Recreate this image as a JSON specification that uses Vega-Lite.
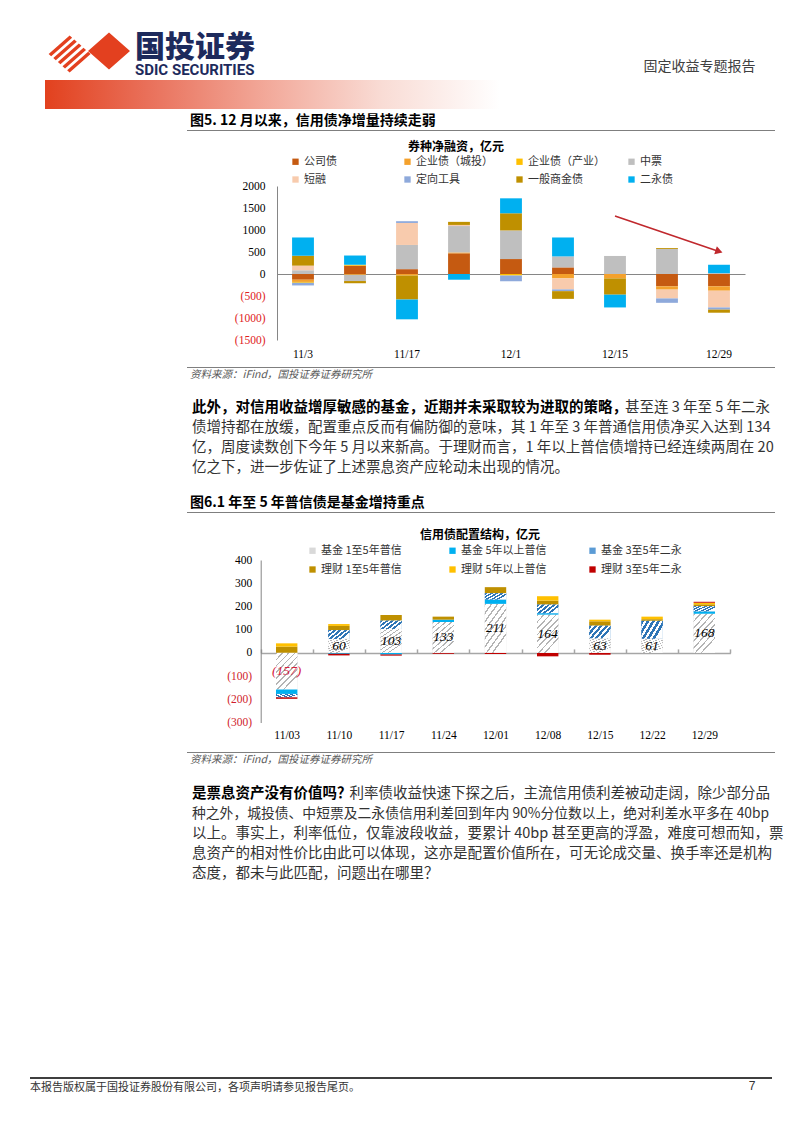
{
  "$schema": "https://vega.github.io/schema/vega-lite/v6.json",
  "background": "white",
  "padding": {"left": 30, "top": 25, "right": 0, "bottom": 0},
  "autosize": {"type": "pad"},
  "config": {"view": {"stroke": null}, "font": "Noto Sans CJK SC", "axis": {"labelOverlap": false, "labelBound": false, "labelFlush": false}},
  "resolve": {"scale": {"x": "independent", "y": "independent", "color": "independent"}, "axis": {"x": "independent", "y": "independent"}, "legend": {"color": "independent"}},
  "title": {"text": "固定收益专题报告", "anchor": "end", "orient": "top", "dx": -28, "dy": 49, "offset": 0, "fontSize": 14, "fontWeight": "normal", "color": "#404040", "font": "Noto Sans CJK SC"},
  "datasets": {
    "flows": [
      {"week": "11/3", "series": "公司债", "value": -130},
      {"week": "11/3", "series": "企业债（城投）", "value": -50},
      {"week": "11/3", "series": "企业债（产业）", "value": -20},
      {"week": "11/3", "series": "中票", "value": 85},
      {"week": "11/3", "series": "短融", "value": 105},
      {"week": "11/3", "series": "定向工具", "value": -60},
      {"week": "11/3", "series": "一般商金债", "value": 225},
      {"week": "11/3", "series": "二永债", "value": 415},
      {"week": "11/10", "series": "公司债", "value": 190},
      {"week": "11/10", "series": "企业债（城投）", "value": -20},
      {"week": "11/10", "series": "企业债（产业）", "value": 20},
      {"week": "11/10", "series": "中票", "value": -140},
      {"week": "11/10", "series": "一般商金债", "value": -50},
      {"week": "11/10", "series": "二永债", "value": 210},
      {"week": "11/17", "series": "公司债", "value": 110},
      {"week": "11/17", "series": "企业债（城投）", "value": -35},
      {"week": "11/17", "series": "中票", "value": 550},
      {"week": "11/17", "series": "短融", "value": 500},
      {"week": "11/17", "series": "定向工具", "value": 40},
      {"week": "11/17", "series": "一般商金债", "value": -545},
      {"week": "11/17", "series": "二永债", "value": -450},
      {"week": "11/24", "series": "公司债", "value": 470},
      {"week": "11/24", "series": "企业债（城投）", "value": 20},
      {"week": "11/24", "series": "中票", "value": 600},
      {"week": "11/24", "series": "短融", "value": 25},
      {"week": "11/24", "series": "一般商金债", "value": 70},
      {"week": "11/24", "series": "二永债", "value": -130},
      {"week": "12/1", "series": "公司债", "value": 340},
      {"week": "12/1", "series": "企业债（产业）", "value": -35},
      {"week": "12/1", "series": "中票", "value": 650},
      {"week": "12/1", "series": "定向工具", "value": -130},
      {"week": "12/1", "series": "一般商金债", "value": 390},
      {"week": "12/1", "series": "二永债", "value": 340},
      {"week": "12/8", "series": "公司债", "value": 150},
      {"week": "12/8", "series": "企业债（城投）", "value": -100},
      {"week": "12/8", "series": "中票", "value": 250},
      {"week": "12/8", "series": "短融", "value": -250},
      {"week": "12/8", "series": "定向工具", "value": -40},
      {"week": "12/8", "series": "一般商金债", "value": -175},
      {"week": "12/8", "series": "二永债", "value": 430},
      {"week": "12/15", "series": "企业债（城投）", "value": -100},
      {"week": "12/15", "series": "中票", "value": 410},
      {"week": "12/15", "series": "一般商金债", "value": -370},
      {"week": "12/15", "series": "二永债", "value": -290},
      {"week": "12/22", "series": "公司债", "value": -280},
      {"week": "12/22", "series": "企业债（城投）", "value": -75},
      {"week": "12/22", "series": "中票", "value": 570},
      {"week": "12/22", "series": "短融", "value": -200},
      {"week": "12/22", "series": "定向工具", "value": -100},
      {"week": "12/22", "series": "一般商金债", "value": 20},
      {"week": "12/29", "series": "公司债", "value": -280},
      {"week": "12/29", "series": "企业债（城投）", "value": -100},
      {"week": "12/29", "series": "中票", "value": 20},
      {"week": "12/29", "series": "短融", "value": -380},
      {"week": "12/29", "series": "定向工具", "value": -50},
      {"week": "12/29", "series": "一般商金债", "value": -70},
      {"week": "12/29", "series": "二永债", "value": 190}
    ],
    "arrow": [{"from": "12/15", "to": "12/29", "start": 1320, "end": 514}],
    "alloc": [
      {"week": "11/03", "series": "基金 1至5年普信", "value": -157},
      {"week": "11/03", "series": "基金 5年以上普信", "value": -20},
      {"week": "11/03", "series": "基金 3至5年二永", "value": -14},
      {"week": "11/03", "series": "理财 1至5年普信", "value": 27},
      {"week": "11/03", "series": "理财 5年以上普信", "value": 14},
      {"week": "11/03", "series": "理财 3至5年二永", "value": -7},
      {"week": "11/10", "series": "基金 1至5年普信", "value": 60},
      {"week": "11/10", "series": "基金 5年以上普信", "value": -4},
      {"week": "11/10", "series": "基金 3至5年二永", "value": 38},
      {"week": "11/10", "series": "理财 1至5年普信", "value": 18},
      {"week": "11/10", "series": "理财 5年以上普信", "value": 8},
      {"week": "11/10", "series": "理财 3至5年二永", "value": -7},
      {"week": "11/17", "series": "基金 1至5年普信", "value": 103},
      {"week": "11/17", "series": "基金 5年以上普信", "value": -7},
      {"week": "11/17", "series": "基金 3至5年二永", "value": 36},
      {"week": "11/17", "series": "理财 1至5年普信", "value": 24},
      {"week": "11/17", "series": "理财 3至5年二永", "value": -5},
      {"week": "11/24", "series": "基金 1至5年普信", "value": 133},
      {"week": "11/24", "series": "基金 5年以上普信", "value": 10},
      {"week": "11/24", "series": "理财 1至5年普信", "value": 13},
      {"week": "11/24", "series": "理财 3至5年二永", "value": -4},
      {"week": "12/01", "series": "基金 1至5年普信", "value": 211},
      {"week": "12/01", "series": "基金 5年以上普信", "value": 19},
      {"week": "12/01", "series": "基金 3至5年二永", "value": 27},
      {"week": "12/01", "series": "理财 1至5年普信", "value": 26},
      {"week": "12/01", "series": "理财 3至5年二永", "value": -5},
      {"week": "12/08", "series": "基金 1至5年普信", "value": 164},
      {"week": "12/08", "series": "基金 5年以上普信", "value": 7},
      {"week": "12/08", "series": "基金 3至5年二永", "value": 37},
      {"week": "12/08", "series": "理财 1至5年普信", "value": 17},
      {"week": "12/08", "series": "理财 5年以上普信", "value": 19},
      {"week": "12/08", "series": "理财 3至5年二永", "value": -15},
      {"week": "12/15", "series": "基金 1至5年普信", "value": 63},
      {"week": "12/15", "series": "基金 3至5年二永", "value": 54},
      {"week": "12/15", "series": "理财 1至5年普信", "value": 19},
      {"week": "12/15", "series": "理财 5年以上普信", "value": 7},
      {"week": "12/15", "series": "理财 3至5年二永", "value": -8},
      {"week": "12/22", "series": "基金 1至5年普信", "value": 61},
      {"week": "12/22", "series": "基金 3至5年二永", "value": 77},
      {"week": "12/22", "series": "理财 1至5年普信", "value": 7},
      {"week": "12/22", "series": "理财 5年以上普信", "value": 11},
      {"week": "12/29", "series": "基金 1至5年普信", "value": 168},
      {"week": "12/29", "series": "基金 5年以上普信", "value": 11},
      {"week": "12/29", "series": "基金 3至5年二永", "value": 22},
      {"week": "12/29", "series": "理财 1至5年普信", "value": 8},
      {"week": "12/29", "series": "理财 5年以上普信", "value": 7},
      {"week": "12/29", "series": "理财 3至5年二永", "value": 4}
    ],
    "para1": [
      {"line": 1, "part": "lead", "text": "此外，对信用收益增厚敏感的基金，近期并未采取较为进取的策略，"},
      {"line": 1, "part": "tail", "text": "甚至连 3 年至 5 年二永"},
      {"line": 2, "part": "body", "text": "债增持都在放缓，配置重点反而有偏防御的意味，其 1 年至 3 年普通信用债净买入达到 134"},
      {"line": 3, "part": "body", "text": "亿，周度读数创下今年 5 月以来新高。于理财而言，1 年以上普信债增持已经连续两周在 20"},
      {"line": 4, "part": "body", "text": "亿之下，进一步佐证了上述票息资产应轮动未出现的情况。"}
    ],
    "para2": [
      {"line": 1, "part": "lead", "text": "是票息资产没有价值吗？"},
      {"line": 1, "part": "tail", "text": "利率债收益快速下探之后，主流信用债利差被动走阔，除少部分品"},
      {"line": 2, "part": "body", "text": "种之外，城投债、中短票及二永债信用利差回到年内 90%分位数以上，绝对利差水平多在 40bp"},
      {"line": 3, "part": "body", "text": "以上。事实上，利率低位，仅靠波段收益，要累计 40bp 甚至更高的浮盈，难度可想而知，票"},
      {"line": 4, "part": "body", "text": "息资产的相对性价比由此可以体现，这亦是配置价值所在，可无论成交量、换手率还是机构"},
      {"line": 5, "part": "body", "text": "态度，都未与此匹配，问题出在哪里？"}
    ]
  },
  "spacing": 0,
  "bounds": "flush",
  "vconcat": [
    {
      "width": 115, "height": 55,
      "data": {"values": [{"brand": "国投证券"}]},
      "mark": {"type": "point", "shape": "M-0.914,0.035L-0.42,-0.4L-0.361,-0.348L-0.855,0.087Z M-0.805,0.131L-0.311,-0.304L-0.252,-0.252L-0.746,0.183Z M-0.697,0.226L-0.203,-0.209L-0.143,-0.156L-0.637,0.279Z M-0.588,0.322L-0.094,-0.113L-0.035,-0.061L-0.529,0.374Z M-0.479,0.418L0.015,-0.017L0.074,0.035L-0.42,0.47Z M0.012,-0.035L0.506,-0.47L1,-0.035L0.506,0.4Z", "size": 7225, "filled": true, "color": "#E3401F", "opacity": 1, "strokeWidth": 0},
      "encoding": {}
    },
    {
      "width": 470, "height": 29,
      "data": {"values": [{"band": "header"}]},
      "title": {"text": "国投证券", "subtitle": "SDIC SECURITIES", "anchor": "start", "dx": 105, "offset": 2, "fontSize": 30, "fontWeight": 900, "color": "#1D2A5C", "font": "Noto Sans CJK SC", "subtitleFont": "Roboto", "subtitleFontSize": 15, "subtitleFontWeight": "bold", "subtitleColor": "#1D2A5C", "subtitlePadding": 0},
      "mark": {"type": "rect", "color": {"gradient": "linear", "x1": 0, "y1": 0, "x2": 1, "y2": 0, "stops": [
        {"offset": 0, "color": "rgba(255,255,255,0)"},
        {"offset": 0.0319, "color": "rgba(255,255,255,0)"},
        {"offset": 0.0319, "color": "#E2411E"},
        {"offset": 0.25, "color": "#E9705A"},
        {"offset": 0.5, "color": "#F2A899"},
        {"offset": 0.75, "color": "#F9DCD5"},
        {"offset": 1, "color": "#FFFFFF"}]}},
      "encoding": {}
    },
    {"width": 1, "height": 21, "data": {"values": [{"gap": 1}]}, "mark": {"type": "rect", "opacity": 0}, "encoding": {}},
    {
      "width": 745, "height": 1,
      "data": {"values": [{"rule": "caption"}]},
      "title": {"text": "图5. 12 月以来，信用债净增量持续走弱", "anchor": "start", "dx": 160, "offset": 2, "fontSize": 14, "fontWeight": "bold", "color": "#000000", "font": "Noto Sans CJK SC"},
      "mark": {"type": "rect", "color": {"gradient": "linear", "stops": [
        {"offset": 0, "color": "rgba(255,255,255,0)"},
        {"offset": 0.2107, "color": "rgba(255,255,255,0)"},
        {"offset": 0.2107, "color": "#7F7F7F"},
        {"offset": 1, "color": "#7F7F7F"}]}},
      "encoding": {}
    },
    {"width": 1, "height": 55, "data": {"values": [{"gap": 1}]}, "mark": {"type": "rect", "opacity": 0}, "encoding": {}},
    {
      "width": 745, "height": 154,
      "title": {"text": "券种净融资，亿元", "anchor": "start", "dx": 378, "offset": 2, "fontSize": 12, "fontWeight": "bold", "font": "Noto Sans CJK SC", "color": "#000000"},
      "layer": [
        {
          "data": {"name": "flows"},
          "transform": [{"stack": "value", "groupby": ["week"], "as": ["v0", "v1"], "offset": "zero"}],
          "mark": {"type": "bar", "width": {"band": 0.42}},
          "encoding": {
            "x": {"field": "week", "type": "nominal",
              "scale": {"domain": ["11/3", "11/10", "11/17", "11/24", "12/1", "12/8", "12/15", "12/22", "12/29"], "range": [247, 715], "paddingInner": 0, "paddingOuter": 0},
              "axis": {"orient": "bottom", "offset": -66, "values": ["11/3", "11/17", "12/1", "12/15", "12/29"], "ticks": false, "domainColor": "#868686", "domainWidth": 1, "labelPadding": 74, "labelFont": "Liberation Serif", "labelFontSize": 11.5, "labelAngle": 0, "labelColor": "#000000", "title": null}},
            "y": {"field": "v0", "type": "quantitative",
              "scale": {"domain": [-1500, 2000], "nice": false, "zero": false},
              "axis": {"offset": -247, "values": [-1500, -1000, -500, 0, 500, 1000, 1500, 2000], "tickCount": 20, "format": "(.0f", "ticks": false, "labelOverlap": false, "domainColor": "#868686", "labelPadding": 12, "labelFont": "Liberation Serif", "labelFontSize": 11.5, "grid": false, "title": null,
                "labelColor": {"condition": {"test": "datum.value < 0", "value": "#E0201B"}, "value": "#000000"}}},
            "y2": {"field": "v1"},
            "color": {"field": "series", "type": "nominal",
              "scale": {"domain": ["公司债", "企业债（城投）", "企业债（产业）", "中票", "短融", "定向工具", "一般商金债", "二永债"], "range": ["#C55A11", "#F4A12C", "#FFC000", "#BFBFBF", "#F8CBAD", "#8EA9DB", "#BF9000", "#00B0F0"]},
              "legend": {"orient": "none", "legendX": 260, "legendY": -30, "columns": 4, "direction": "horizontal", "title": null, "symbolType": "square", "symbolSize": 40, "symbolStrokeWidth": 0, "labelFont": "Noto Sans CJK SC", "labelFontSize": 11, "labelColor": "#333333", "columnPadding": 21, "rowPadding": 6, "gridAlign": "all", "labelOffset": 3, "padding": 0}}
          }
        },
        {
          "data": {"name": "arrow"},
          "mark": {"type": "rule", "color": "#C0282D", "strokeWidth": 1.6},
          "encoding": {
            "x": {"field": "from", "type": "nominal", "scale": {"domain": ["11/3", "11/10", "11/17", "11/24", "12/1", "12/8", "12/15", "12/22", "12/29"], "range": [247, 715], "paddingInner": 0, "paddingOuter": 0}},
            "x2": {"field": "to"},
            "y": {"field": "start", "type": "quantitative", "scale": {"domain": [-1500, 2000], "nice": false, "zero": false}},
            "y2": {"field": "end"}
          }
        },
        {
          "data": {"name": "arrow"},
          "mark": {"type": "point", "shape": "triangle-right", "angle": 18, "size": 70, "filled": true, "color": "#C0282D", "opacity": 1},
          "encoding": {
            "x": {"field": "to", "type": "nominal", "scale": {"domain": ["11/3", "11/10", "11/17", "11/24", "12/1", "12/8", "12/15", "12/22", "12/29"], "range": [247, 715], "paddingInner": 0, "paddingOuter": 0}},
            "y": {"field": "end", "type": "quantitative", "scale": {"domain": [-1500, 2000], "nice": false, "zero": false}}
          }
        }
      ]
    },
    {"width": 1, "height": 27, "data": {"values": [{"gap": 1}]}, "mark": {"type": "rect", "opacity": 0}, "encoding": {}},
    {
      "width": 745, "height": 1,
      "data": {"values": [{"rule": "source"}]},
      "title": {"text": "资料来源：iFind，国投证券证券研究所", "orient": "bottom", "anchor": "start", "dx": 160, "offset": 2, "fontSize": 10.5, "fontWeight": "normal", "fontStyle": "italic", "color": "#595959", "font": "Noto Sans CJK SC"},
      "mark": {"type": "rect", "color": {"gradient": "linear", "stops": [
        {"offset": 0, "color": "rgba(255,255,255,0)"},
        {"offset": 0.2107, "color": "rgba(255,255,255,0)"},
        {"offset": 0.2107, "color": "#7F7F7F"},
        {"offset": 1, "color": "#7F7F7F"}]}},
      "encoding": {}
    },
    {"width": 1, "height": 30, "data": {"values": [{"gap": 1}]}, "mark": {"type": "rect", "opacity": 0}, "encoding": {}},
    {
      "width": 745, "height": 80,
      "data": {"name": "para1"},
      "layer": [
        {"transform": [{"filter": "datum.part === 'lead'"}],
         "mark": {"type": "text", "align": "left", "baseline": "middle", "font": "Noto Sans CJK SC", "fontSize": 14.5, "fontWeight": "bold", "color": "#000000"},
         "encoding": {"x": {"datum": 0, "type": "quantitative", "scale": {"domain": [0, 1], "range": [162, 740]}, "axis": null},
           "y": {"field": "line", "type": "ordinal", "scale": {"type": "band", "domain": [1, 2, 3, 4], "paddingInner": 0, "paddingOuter": 0}, "axis": null},
           "text": {"field": "text"}}},
        {"transform": [{"filter": "datum.part === 'body'"}],
         "mark": {"type": "text", "align": "left", "baseline": "middle", "font": "Noto Sans CJK SC", "fontSize": 14.5, "color": "#333333"},
         "encoding": {"x": {"datum": 0, "type": "quantitative", "scale": {"domain": [0, 1], "range": [162, 740]}, "axis": null},
           "y": {"field": "line", "type": "ordinal", "scale": {"type": "band", "domain": [1, 2, 3, 4], "paddingInner": 0, "paddingOuter": 0}, "axis": null},
           "text": {"field": "text"}}},
        {"transform": [{"filter": "datum.part === 'tail'"}],
         "mark": {"type": "text", "align": "right", "baseline": "middle", "font": "Noto Sans CJK SC", "fontSize": 14.5, "color": "#333333"},
         "encoding": {"x": {"datum": 1, "type": "quantitative", "scale": {"domain": [0, 1], "range": [162, 740]}, "axis": null},
           "y": {"field": "line", "type": "ordinal", "scale": {"type": "band", "domain": [1, 2, 3, 4], "paddingInner": 0, "paddingOuter": 0}, "axis": null},
           "text": {"field": "text"}}}
      ]
    },
    {"width": 1, "height": 34, "data": {"values": [{"gap": 1}]}, "mark": {"type": "rect", "opacity": 0}, "encoding": {}},
    {
      "width": 745, "height": 1,
      "data": {"values": [{"rule": "caption"}]},
      "title": {"text": "图6.1 年至 5 年普信债是基金增持重点", "anchor": "start", "dx": 160, "offset": 2, "fontSize": 14, "fontWeight": "bold", "color": "#000000", "font": "Noto Sans CJK SC"},
      "mark": {"type": "rect", "color": {"gradient": "linear", "stops": [
        {"offset": 0, "color": "rgba(255,255,255,0)"},
        {"offset": 0.2107, "color": "rgba(255,255,255,0)"},
        {"offset": 0.2107, "color": "#7F7F7F"},
        {"offset": 1, "color": "#7F7F7F"}]}},
      "encoding": {}
    },
    {"width": 1, "height": 46.5, "data": {"values": [{"gap": 1}]}, "mark": {"type": "rect", "opacity": 0}, "encoding": {}},
    {
      "width": 745, "height": 162.5,
      "title": {"text": "信用债配置结构，亿元", "anchor": "start", "dx": 390, "offset": 3, "fontSize": 12, "fontWeight": "bold", "font": "Noto Sans CJK SC", "color": "#000000"},
      "data": {"name": "alloc"},
      "transform": [{"stack": "value", "groupby": ["week"], "as": ["v0", "v1"], "offset": "zero"}],
      "layer": [
        {
          "mark": {"type": "bar", "width": {"band": 0.41}},
          "encoding": {
            "x": {"field": "week", "type": "nominal",
              "scale": {"domain": ["11/03", "11/10", "11/17", "11/24", "12/01", "12/08", "12/15", "12/22", "12/29"], "range": [230.6, 700.4], "paddingInner": 0, "paddingOuter": 0},
              "axis": {"orient": "bottom", "offset": -69.6, "ticks": true, "tickBand": "extent", "tickSize": -4, "tickColor": "#A6A6A6", "tickWidth": 1.5, "domainColor": "#A6A6A6", "domainWidth": 1.5, "labelPadding": 81, "labelFont": "Liberation Serif", "labelFontSize": 11.5, "labelAngle": 0, "labelColor": "#000000", "title": null}},
            "y": {"field": "v0", "type": "quantitative",
              "scale": {"domain": [-300, 400], "nice": false, "zero": false},
              "axis": {"offset": -230.7, "values": [-300, -200, -100, 0, 100, 200, 300, 400], "tickCount": 20, "format": "(.0f", "ticks": false, "labelOverlap": false, "domainColor": "#868686", "labelPadding": 9, "labelFont": "Liberation Serif", "labelFontSize": 11.5, "grid": false, "title": null,
                "labelColor": {"condition": {"test": "datum.value < 0", "value": "#D01C2C"}, "value": "#000000"}}},
            "y2": {"field": "v1"},
            "color": {"field": "series", "type": "nominal",
              "scale": {"domain": ["基金 1至5年普信", "基金 5年以上普信", "基金 3至5年二永", "理财 1至5年普信", "理财 5年以上普信", "理财 3至5年二永"], "range": ["#D9D9D9", "#00B0F0", "#5B9BD5", "#BF9000", "#FFC000", "#C00000"]},
              "legend": {"orient": "none", "legendX": 277, "legendY": -15, "columns": 3, "direction": "horizontal", "title": null, "symbolType": "square", "symbolSize": 40, "symbolStrokeWidth": 0, "labelFont": "Noto Sans CJK SC", "labelFontSize": 11, "labelColor": "#333333", "columnPadding": 40, "rowPadding": 7, "gridAlign": "all", "labelOffset": 3, "padding": 0}}
          }
        },
        {
          "transform": [{"filter": "datum.series === '基金 1至5年普信'"}],
          "mark": {"type": "bar", "width": {"band": 0.41}, "color": {"gradient": "linear", "x1": 0, "y1": 0, "x2": 0.6, "y2": 1, "stops": [
            {"offset": 0, "color": "#B4B4B4"}, {"offset": 0.035, "color": "#B4B4B4"}, {"offset": 0.035, "color": "#FFFFFF"}, {"offset": 0.125, "color": "#FFFFFF"},
            {"offset": 0.125, "color": "#B4B4B4"}, {"offset": 0.16, "color": "#B4B4B4"}, {"offset": 0.16, "color": "#FFFFFF"}, {"offset": 0.25, "color": "#FFFFFF"},
            {"offset": 0.25, "color": "#B4B4B4"}, {"offset": 0.285, "color": "#B4B4B4"}, {"offset": 0.285, "color": "#FFFFFF"}, {"offset": 0.375, "color": "#FFFFFF"},
            {"offset": 0.375, "color": "#B4B4B4"}, {"offset": 0.41, "color": "#B4B4B4"}, {"offset": 0.41, "color": "#FFFFFF"}, {"offset": 0.5, "color": "#FFFFFF"},
            {"offset": 0.5, "color": "#B4B4B4"}, {"offset": 0.535, "color": "#B4B4B4"}, {"offset": 0.535, "color": "#FFFFFF"}, {"offset": 0.625, "color": "#FFFFFF"},
            {"offset": 0.625, "color": "#B4B4B4"}, {"offset": 0.66, "color": "#B4B4B4"}, {"offset": 0.66, "color": "#FFFFFF"}, {"offset": 0.75, "color": "#FFFFFF"},
            {"offset": 0.75, "color": "#B4B4B4"}, {"offset": 0.785, "color": "#B4B4B4"}, {"offset": 0.785, "color": "#FFFFFF"}, {"offset": 0.875, "color": "#FFFFFF"},
            {"offset": 0.875, "color": "#B4B4B4"}, {"offset": 0.91, "color": "#B4B4B4"}, {"offset": 0.91, "color": "#FFFFFF"}, {"offset": 1, "color": "#FFFFFF"}]}},
          "encoding": {
            "x": {"field": "week", "type": "nominal", "scale": {"domain": ["11/03", "11/10", "11/17", "11/24", "12/01", "12/08", "12/15", "12/22", "12/29"], "range": [230.6, 700.4], "paddingInner": 0, "paddingOuter": 0}},
            "y": {"field": "v0", "type": "quantitative", "scale": {"domain": [-300, 400], "nice": false, "zero": false}},
            "y2": {"field": "v1"}
          }
        },
        {
          "transform": [{"filter": "datum.series === '基金 3至5年二永'"}],
          "mark": {"type": "bar", "width": {"band": 0.41}, "color": {"gradient": "linear", "x1": 0, "y1": 0, "x2": 1, "y2": 0.5, "stops": [
            {"offset": 0, "color": "#2E75B6"}, {"offset": 0.11, "color": "#2E75B6"}, {"offset": 0.11, "color": "#FFFFFF"}, {"offset": 0.2, "color": "#FFFFFF"},
            {"offset": 0.2, "color": "#2E75B6"}, {"offset": 0.31, "color": "#2E75B6"}, {"offset": 0.31, "color": "#FFFFFF"}, {"offset": 0.4, "color": "#FFFFFF"},
            {"offset": 0.4, "color": "#2E75B6"}, {"offset": 0.51, "color": "#2E75B6"}, {"offset": 0.51, "color": "#FFFFFF"}, {"offset": 0.6, "color": "#FFFFFF"},
            {"offset": 0.6, "color": "#2E75B6"}, {"offset": 0.71, "color": "#2E75B6"}, {"offset": 0.71, "color": "#FFFFFF"}, {"offset": 0.8, "color": "#FFFFFF"},
            {"offset": 0.8, "color": "#2E75B6"}, {"offset": 0.91, "color": "#2E75B6"}, {"offset": 0.91, "color": "#FFFFFF"}, {"offset": 1, "color": "#FFFFFF"}]}},
          "encoding": {
            "x": {"field": "week", "type": "nominal", "scale": {"domain": ["11/03", "11/10", "11/17", "11/24", "12/01", "12/08", "12/15", "12/22", "12/29"], "range": [230.6, 700.4], "paddingInner": 0, "paddingOuter": 0}},
            "y": {"field": "v0", "type": "quantitative", "scale": {"domain": [-300, 400], "nice": false, "zero": false}},
            "y2": {"field": "v1"}
          }
        },
        {
          "transform": [
            {"filter": "datum.series === '基金 1至5年普信'"},
            {"fold": ["v0", "v1"], "as": ["end", "pos"]},
            {"aggregate": [{"op": "mean", "field": "pos", "as": "mid"}, {"op": "max", "field": "value", "as": "lab"}], "groupby": ["week"]}
          ],
          "mark": {"type": "text", "font": "Liberation Serif", "fontStyle": "italic", "fontSize": 13.5, "baseline": "middle", "align": "center"},
          "encoding": {
            "x": {"field": "week", "type": "nominal", "scale": {"domain": ["11/03", "11/10", "11/17", "11/24", "12/01", "12/08", "12/15", "12/22", "12/29"], "range": [230.6, 700.4], "paddingInner": 0, "paddingOuter": 0}},
            "y": {"field": "mid", "type": "quantitative", "scale": {"domain": [-300, 400], "nice": false, "zero": false}},
            "text": {"field": "lab", "type": "quantitative", "format": "(.0f"},
            "color": {"condition": {"test": "datum.lab < 0", "value": "#D6213E"}, "value": "#000000"}
          }
        }
      ]
    },
    {"width": 1, "height": 29, "data": {"values": [{"gap": 1}]}, "mark": {"type": "rect", "opacity": 0}, "encoding": {}},
    {
      "width": 745, "height": 1,
      "data": {"values": [{"rule": "source"}]},
      "title": {"text": "资料来源：iFind，国投证券证券研究所", "orient": "bottom", "anchor": "start", "dx": 160, "offset": 2, "fontSize": 10.5, "fontWeight": "normal", "fontStyle": "italic", "color": "#595959", "font": "Noto Sans CJK SC"},
      "mark": {"type": "rect", "color": {"gradient": "linear", "stops": [
        {"offset": 0, "color": "rgba(255,255,255,0)"},
        {"offset": 0.2107, "color": "rgba(255,255,255,0)"},
        {"offset": 0.2107, "color": "#7F7F7F"},
        {"offset": 1, "color": "#7F7F7F"}]}},
      "encoding": {}
    },
    {"width": 1, "height": 31, "data": {"values": [{"gap": 1}]}, "mark": {"type": "rect", "opacity": 0}, "encoding": {}},
    {
      "width": 745, "height": 100,
      "data": {"name": "para2"},
      "layer": [
        {"transform": [{"filter": "datum.part === 'lead'"}],
         "mark": {"type": "text", "align": "left", "baseline": "middle", "font": "Noto Sans CJK SC", "fontSize": 14.5, "fontWeight": "bold", "color": "#000000"},
         "encoding": {"x": {"datum": 0, "type": "quantitative", "scale": {"domain": [0, 1], "range": [162, 740]}, "axis": null},
           "y": {"field": "line", "type": "ordinal", "scale": {"type": "band", "domain": [1, 2, 3, 4, 5], "paddingInner": 0, "paddingOuter": 0}, "axis": null},
           "text": {"field": "text"}}},
        {"transform": [{"filter": "datum.part === 'body' && datum.line !== 2"}],
         "mark": {"type": "text", "align": "left", "baseline": "middle", "font": "Noto Sans CJK SC", "fontSize": 14.5, "color": "#333333"},
         "encoding": {"x": {"datum": 0, "type": "quantitative", "scale": {"domain": [0, 1], "range": [162, 740]}, "axis": null},
           "y": {"field": "line", "type": "ordinal", "scale": {"type": "band", "domain": [1, 2, 3, 4, 5], "paddingInner": 0, "paddingOuter": 0}, "axis": null},
           "text": {"field": "text"}}},
        {"transform": [{"filter": "datum.part === 'body' && datum.line === 2"}],
         "mark": {"type": "text", "align": "left", "baseline": "middle", "font": "Noto Sans CJK SC", "fontSize": 13.8, "color": "#333333"},
         "encoding": {"x": {"datum": 0, "type": "quantitative", "scale": {"domain": [0, 1], "range": [162, 740]}, "axis": null},
           "y": {"field": "line", "type": "ordinal", "scale": {"type": "band", "domain": [1, 2, 3, 4, 5], "paddingInner": 0, "paddingOuter": 0}, "axis": null},
           "text": {"field": "text"}}},
        {"transform": [{"filter": "datum.part === 'tail'"}],
         "mark": {"type": "text", "align": "right", "baseline": "middle", "font": "Noto Sans CJK SC", "fontSize": 14.5, "color": "#333333"},
         "encoding": {"x": {"datum": 1, "type": "quantitative", "scale": {"domain": [0, 1], "range": [162, 740]}, "axis": null},
           "y": {"field": "line", "type": "ordinal", "scale": {"type": "band", "domain": [1, 2, 3, 4, 5], "paddingInner": 0, "paddingOuter": 0}, "axis": null},
           "text": {"field": "text"}}}
      ]
    },
    {"width": 1, "height": 193, "data": {"values": [{"gap": 1}]}, "mark": {"type": "rect", "opacity": 0}, "encoding": {}},
    {
      "width": 742, "height": 2,
      "title": {"text": "本报告版权属于国投证券股份有限公司，各项声明请参见报告尾页。", "orient": "bottom", "anchor": "start", "offset": -10, "fontSize": 11, "fontWeight": "normal", "color": "#333333", "font": "Noto Sans CJK SC"},
      "layer": [
        {"data": {"values": [{"rule": "footer"}]}, "mark": {"type": "rect", "color": "#3F3F3F"}, "encoding": {}},
        {"data": {"values": [{"page": "7"}]},
         "mark": {"type": "text", "fontSize": 12, "color": "#333333", "font": "Liberation Sans", "baseline": "middle", "align": "center", "dy": 8},
         "encoding": {"x": {"datum": 1, "type": "quantitative", "scale": {"domain": [0, 1], "range": [0, 722]}, "axis": null}, "text": {"field": "page"}}}
      ]
    }
  ]
}
